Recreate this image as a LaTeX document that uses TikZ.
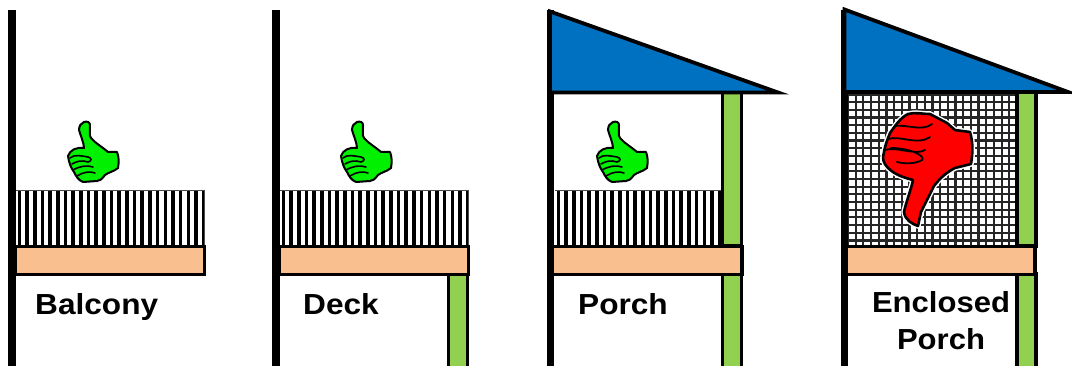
\documentclass[tikz,border=0pt]{standalone}
\usepackage{fontspec}
\setmainfont{Liberation Sans}
\definecolor{peach}{HTML}{FABF8F}
\definecolor{roofblue}{HTML}{0070C0}
\definecolor{postgreen}{HTML}{92D050}
\definecolor{thumbgreen}{HTML}{00F000}
\definecolor{thumbred}{HTML}{FF0000}
\tikzset{
  wall/.style={fill=black,draw=none},
  floorslab/.style={fill=peach,draw=black,line width=3.4pt},
  postbar/.style={fill=postgreen,draw=black,line width=3.4pt},
  roofshape/.style={fill=roofblue,draw=black,line width=3.8pt,line join=miter},
  label/.style={font=\bfseries\fontsize{29}{32}\selectfont,text=black,inner sep=0pt},
}
\newcommand{\railing}[2]{%
  \fill[white] (#1,190) rectangle (#2,245);
  \begin{scope}
    \clip (#1,190) rectangle (#2,245);
    \foreach \i in {0,...,30} {
      \draw[black,line width=3.6pt] ({#1+3.4+\i*7.68},190) -- ({#1+3.4+\i*7.68},245);
    }
  \end{scope}
  \draw[black!70,line width=1pt] (#1,190.5) -- (#2,190.5) -- (#2,245);
}
\newcommand{\thumbup}[1]{%
  \begin{scope}[shift={(#1,0)}]
    \draw[black,fill=thumbgreen,line width=2pt,line join=round]
      (84,122) .. controls (87,121) and (90,122) .. (90,125)
      .. controls (90,131) and (89,135) .. (91,138)
      .. controls (95,143) and (101,146) .. (108,152)
      -- (117,152)
      .. controls (119,157) and (119,162) .. (118,168)
      .. controls (113,172) and (109,172) .. (105,175)
      .. controls (102,179) and (100,181) .. (97,181)
      -- (83,182)
      .. controls (78,180) and (76,176) .. (74,172)
      .. controls (71,168) and (69,163) .. (68,156)
      .. controls (70,150) and (76,147) .. (84,148)
      .. controls (84,143) and (80,134) .. (79,130)
      .. controls (79,126) and (81,123) .. (84,122) -- cycle;
    \draw[black,line width=1.6pt,line cap=round]
      (70,158) .. controls (74,154) and (82,156) .. (88,157)
      .. controls (92,158) and (92,161) .. (88,162)
      .. controls (82,160) and (77,161) .. (72,164);
    \draw[black,line width=1.6pt,line cap=round]
      (73,170) .. controls (80,166) and (87,165) .. (93,167);
    \draw[black,line width=1.6pt,line cap=round]
      (77,176) .. controls (83,172) and (90,171) .. (95,173);
  \end{scope}
}
\begin{document}
\begin{tikzpicture}[x=1pt,y=-1pt]
\useasboundingbox[fill=white] (0,0) rectangle (1072,366);
% ---- panel 1: balcony
\railing{16}{204}
\draw[floorslab] (15,246.5) rectangle (204.5,274.5);
\fill[wall] (8,10) rectangle (16,366);
\thumbup{0}
\node[label,anchor=base west] (balcony) at (35,315) {\scalebox{1.09}[1]{Balcony}};
% ---- panel 2: deck
\railing{280}{468}
\draw[postbar] (448.5,274) rectangle (467.5,370);
\draw[floorslab] (279,246.5) rectangle (468.5,274.5);
\fill[wall] (272,10) rectangle (280,366);
\thumbup{273}
\node[label,anchor=base west] (deck) at (303,315) {\scalebox{1.09}[1]{Deck}};
% ---- panel 3: porch
\railing{555}{722}
\draw[postbar] (722.5,92) rectangle (741.5,246);
\draw[postbar] (722.5,274) rectangle (741.5,370);
\draw[floorslab] (549,246.5) rectangle (742,274.5);
\fill[wall] (547,10) rectangle (554,366);
\draw[roofshape] (550,11.5) -- (550,92.5) -- (778,92.5) -- cycle;
\thumbup{529}
\node[label,anchor=base west] (porch) at (578,315) {\scalebox{1.09}[1]{Porch}};
% ---- panel 4: enclosed porch
\fill[white] (848,92) rectangle (1016,246);
\begin{scope}
  \clip (848,92) rectangle (1016,246);
  \foreach \i in {0,...,22} {
    \draw[black!85,line width=2.2pt] ({848+\i*7.68},92) -- ({848+\i*7.68},246);
  }
  \foreach \i in {0,...,20} {
    \draw[black!85,line width=2.2pt] (848,{94.5+\i*7.68}) -- (1016,{94.5+\i*7.68});
  }
\end{scope}
\draw[postbar] (1017,92) rectangle (1036,246);
\draw[postbar] (1017,274) rectangle (1036,370);
\draw[floorslab] (843,246.5) rectangle (1035,274.5);
\fill[wall] (841,10) rectangle (848,366);
\draw[roofshape] (844.5,9.5) -- (844.5,92) -- (1068,92) -- cycle;
% thumbs down
\path[fill=white,draw=white,line width=5.5pt,line join=round]
  (908,114) .. controls (915,112) and (922,114) .. (930,114)
  -- (947,123) -- (955,130) -- (970,132)
  .. controls (973,142) and (973,152) .. (971,164)
  -- (955,168) .. controls (947,172) and (940,178) .. (934,186)
  -- (921,212) -- (918,226)
  .. controls (912,224) and (905,220) .. (904,212)
  .. controls (906,202) and (911,190) .. (913,180)
  .. controls (905,178) and (895,175) .. (888,168)
  .. controls (883,163) and (882,158) .. (884,152)
  .. controls (885,145) and (888,138) .. (890,133)
  .. controls (895,126) and (900,118) .. (908,114) -- cycle;
\draw[black,fill=thumbred,line width=2.6pt,line join=round]
  (908,114) .. controls (915,112) and (922,114) .. (930,114)
  -- (947,123) -- (955,130) -- (970,132)
  .. controls (973,142) and (973,152) .. (971,164)
  -- (955,168) .. controls (947,172) and (940,178) .. (934,186)
  -- (921,212) -- (918,226)
  .. controls (912,224) and (905,220) .. (904,212)
  .. controls (906,202) and (911,190) .. (913,180)
  .. controls (905,178) and (895,175) .. (888,168)
  .. controls (883,163) and (882,158) .. (884,152)
  .. controls (885,145) and (888,138) .. (890,133)
  .. controls (895,126) and (900,118) .. (908,114) -- cycle;
\draw[black,line width=1.8pt,line cap=round]
  (895,126) .. controls (906,124) and (922,132) .. (932,124)
  (888,139) .. controls (900,135) and (918,146) .. (930,137)
  (885,150) .. controls (896,146) and (915,156) .. (925,150)
  (897,162) .. controls (905,164) and (915,164) .. (922,160)
  .. controls (926,156) and (910,148) .. (891,148);
% texts
\node[label] (enclosed) at (941,302) {\scalebox{1.07}[1]{Enclosed}};
\node[label] (porchb) at (941,339) {\scalebox{1.07}[1]{Porch}};
\end{tikzpicture}
\end{document}
